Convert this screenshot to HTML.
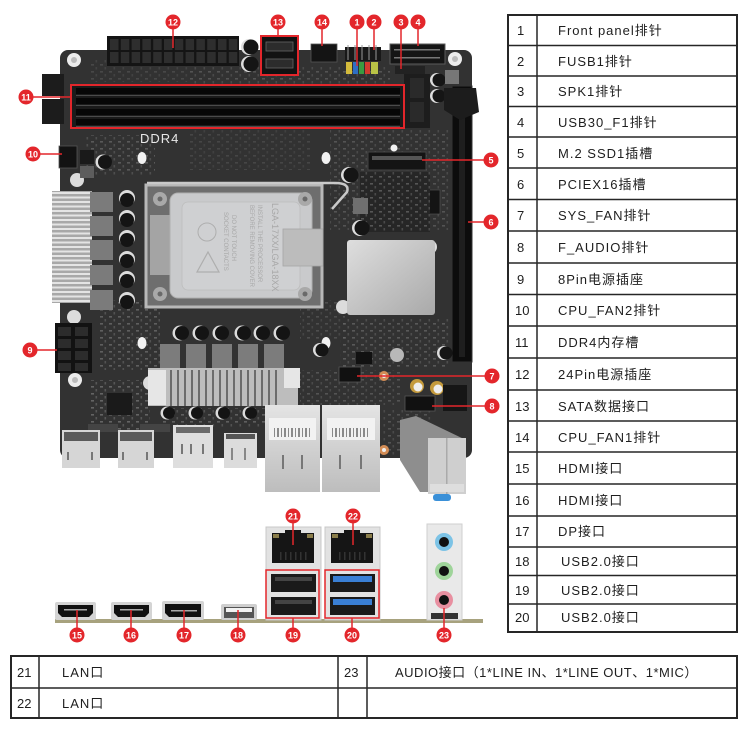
<!DOCTYPE html>
<html><head><meta charset="utf-8">
<style>
html,body{margin:0;padding:0;background:#fff;width:746px;height:734px;overflow:hidden}
svg{display:block}
.t{font-family:"Liberation Sans","Noto Sans CJK SC",sans-serif;font-size:13px;fill:#1e1e1e}
.c{font-family:"Liberation Sans",sans-serif;font-size:9px;font-weight:bold;fill:#fff}
</style></head>
<body>
<svg width="746" height="734" viewBox="0 0 746 734" xmlns="http://www.w3.org/2000/svg">
<defs>
<pattern id="smd" width="9" height="7" patternUnits="userSpaceOnUse">
<rect x="1" y="1" width="3" height="1.6" fill="#6a6a6a"/><rect x="5.5" y="4" width="1.6" height="2.5" fill="#5a5a5a"/>
</pattern>
<linearGradient id="hs" x1="0" y1="0" x2="1" y2="1"><stop offset="0" stop-color="#dedede"/><stop offset="1" stop-color="#a9a9a9"/></linearGradient>
<linearGradient id="met" x1="0" y1="0" x2="0" y2="1"><stop offset="0" stop-color="#e4e4e4"/><stop offset="1" stop-color="#bdbdbd"/></linearGradient>
</defs>

<!-- ===== BOARD ===== -->
<rect x="60" y="50" width="412" height="408" rx="8" fill="#323232"/>
<!-- smd textures -->
<rect x="100" y="300" width="60" height="70" fill="url(#smd)" opacity="0.8"/>
<rect x="90" y="380" width="60" height="50" fill="url(#smd)" opacity="0.9"/>
<rect x="85" y="135" width="70" height="40" fill="url(#smd)" opacity="0.7"/>
<rect x="330" y="130" width="120" height="100" fill="url(#smd)" opacity="0.6"/>
<rect x="340" y="318" width="110" height="50" fill="url(#smd)" opacity="0.7"/>
<rect x="190" y="130" width="120" height="40" fill="url(#smd)" opacity="0.35"/>
<rect x="300" y="370" width="100" height="35" fill="url(#smd)" opacity="0.6"/>
<rect x="160" y="408" width="110" height="20" fill="url(#smd)" opacity="0.8"/>
<rect x="382" y="410" width="50" height="45" fill="url(#smd)" opacity="0.6"/>
<rect x="190" y="66" width="200" height="18" fill="url(#smd)" opacity="0.6"/>
<rect x="300" y="300" width="45" height="40" fill="url(#smd)" opacity="0.5"/>
<rect x="90" y="60" width="100" height="22" fill="url(#smd)" opacity="0.4"/>
<!-- chip near 8pin -->
<rect x="107" y="393" width="25" height="22" fill="#1a1a1a"/>
<rect x="88" y="424" width="30" height="8" fill="#444"/>
<rect x="140" y="424" width="30" height="8" fill="#444"/>

<!-- mounting holes -->
<g fill="#ececec"><circle cx="74" cy="60" r="7"/><circle cx="455" cy="59" r="7"/><circle cx="75" cy="380" r="7"/></g>
<g fill="#bbb"><circle cx="74" cy="60" r="3"/><circle cx="455" cy="59" r="3"/><circle cx="75" cy="380" r="3"/></g>
<!-- white oval holes -->
<g fill="#f2f2f2"><ellipse cx="142" cy="158" rx="4.5" ry="6"/><ellipse cx="326" cy="158" rx="4.5" ry="6"/><ellipse cx="142" cy="343" rx="4.5" ry="6"/><ellipse cx="326" cy="343" rx="4.5" ry="6"/><circle cx="394" cy="148" r="3.5"/></g>
<!-- standoffs -->
<g fill="#dcdcdc"><circle cx="77" cy="180" r="7"/><circle cx="74" cy="317" r="7"/><circle cx="150" cy="383" r="7"/><circle cx="430" cy="247" r="7"/><circle cx="343" cy="307" r="7"/><circle cx="293" cy="383" r="7"/></g>

<!-- 24 pin -->
<rect x="107" y="36" width="132" height="30" fill="#141414"/>
<g fill="#2e2e2e">
<rect x="110" y="39" width="8.5" height="11"/><rect x="120.8" y="39" width="8.5" height="11"/><rect x="131.6" y="39" width="8.5" height="11"/><rect x="142.4" y="39" width="8.5" height="11"/><rect x="153.2" y="39" width="8.5" height="11"/><rect x="164" y="39" width="8.5" height="11"/><rect x="174.8" y="39" width="8.5" height="11"/><rect x="185.6" y="39" width="8.5" height="11"/><rect x="196.4" y="39" width="8.5" height="11"/><rect x="207.2" y="39" width="8.5" height="11"/><rect x="218" y="39" width="8.5" height="11"/><rect x="228.8" y="39" width="8.5" height="11"/>
<rect x="110" y="52" width="8.5" height="11"/><rect x="120.8" y="52" width="8.5" height="11"/><rect x="131.6" y="52" width="8.5" height="11"/><rect x="142.4" y="52" width="8.5" height="11"/><rect x="153.2" y="52" width="8.5" height="11"/><rect x="164" y="52" width="8.5" height="11"/><rect x="174.8" y="52" width="8.5" height="11"/><rect x="185.6" y="52" width="8.5" height="11"/><rect x="196.4" y="52" width="8.5" height="11"/><rect x="207.2" y="52" width="8.5" height="11"/><rect x="218" y="52" width="8.5" height="11"/><rect x="228.8" y="52" width="8.5" height="11"/>
</g>
<!-- caps near 24pin -->
<circle cx="249" cy="47" r="8" fill="#ddd"/><circle cx="251" cy="47" r="7.5" fill="#151515"/>
<circle cx="249" cy="64" r="8" fill="#ddd"/><circle cx="251" cy="64" r="7.5" fill="#151515"/>

<!-- DIMM latches left -->
<rect x="42" y="74" width="22" height="22" fill="#1c1c1c"/>
<rect x="42" y="99" width="22" height="25" fill="#1c1c1c"/>
<!-- DIMM right latches -->
<rect x="404" y="74" width="26" height="54" fill="#1d1d1d"/>
<rect x="410" y="78" width="14" height="20" fill="#2a2a2a"/>
<rect x="410" y="102" width="14" height="20" fill="#2a2a2a"/>
<!-- DIMM slots -->
<rect x="72" y="86" width="332" height="42" fill="#1b1b1b"/>
<g fill="#070707"><rect x="76" y="88" width="324" height="6"/><rect x="76" y="98" width="324" height="6"/><rect x="76" y="109" width="324" height="6"/><rect x="76" y="119" width="324" height="6"/></g>
<g fill="#4b4b4b"><rect x="76" y="95" width="324" height="1"/><rect x="76" y="105" width="324" height="1"/><rect x="76" y="116" width="324" height="1"/><rect x="76" y="126" width="324" height="1"/></g>
<rect x="71" y="85" width="333" height="43" fill="none" stroke="#e3262b" stroke-width="2"/>
<text x="140" y="143" font-family="Liberation Sans,sans-serif" font-size="13" fill="#e8e8e8" letter-spacing="1">DDR4</text>

<!-- SATA -->
<rect x="262" y="37" width="35" height="37" fill="#121212"/>
<rect x="266" y="42" width="27" height="9" fill="#2c2c2c" stroke="#666" stroke-width="0.8"/>
<rect x="266" y="59" width="27" height="9" fill="#2c2c2c" stroke="#666" stroke-width="0.8"/>
<rect x="261" y="36" width="37" height="39" fill="none" stroke="#e3262b" stroke-width="2"/>
<!-- CPU_FAN1 -->
<rect x="311" y="44" width="26" height="18" fill="#141414" stroke="#555" stroke-width="0.8"/>
<!-- front panel -->
<rect x="345" y="47" width="36" height="14" fill="#181818"/>
<g stroke="#999" stroke-width="1"><line x1="348" y1="45" x2="348" y2="60"/><line x1="355" y1="45" x2="355" y2="60"/><line x1="362" y1="45" x2="362" y2="60"/><line x1="369" y1="45" x2="369" y2="60"/><line x1="376" y1="45" x2="376" y2="60"/></g>
<rect x="346" y="62" width="6" height="12" fill="#d4bb3c"/>
<rect x="353" y="62" width="5" height="12" fill="#2f6fc4"/>
<rect x="359" y="62" width="5" height="12" fill="#3b9a40"/>
<rect x="365" y="62" width="5" height="12" fill="#d23a2e"/>
<rect x="371" y="62" width="7" height="12" fill="#b9c346"/>
<!-- USB3 header -->
<rect x="390" y="44" width="55" height="20" fill="#151515" stroke="#5a5a5a" stroke-width="1"/>
<g fill="#777"><rect x="394" y="49" width="46" height="1.5"/><rect x="394" y="57" width="46" height="1.5"/></g>
<rect x="395" y="66" width="30" height="8" fill="#222"/>
<!-- caps near top right -->
<circle cx="437" cy="80" r="7" fill="#ddd"/><circle cx="439" cy="80" r="6.5" fill="#151515"/>
<circle cx="437" cy="96" r="7" fill="#ddd"/><circle cx="439" cy="96" r="6.5" fill="#151515"/>
<rect x="445" y="70" width="14" height="14" fill="#777"/>

<!-- PCIe slot -->
<rect x="452" y="86" width="20" height="276" fill="#0c0c0c" stroke="#333" stroke-width="1"/>
<rect x="459" y="92" width="6" height="265" fill="#1e1e1e"/>
<polygon points="444,88 476,88 479,112 460,120 444,110" fill="#1c1c1c"/>
<!-- small headers near pcie -->
<rect x="424" y="190" width="16" height="24" fill="#141414" stroke="#555" stroke-width="0.6"/>
<!-- M.2 -->
<rect x="368" y="152" width="58" height="18" fill="#141414" stroke="#444" stroke-width="1"/>
<rect x="372" y="156" width="50" height="4" fill="#555"/>
<rect x="360" y="172" width="70" height="60" fill="#262626"/>
<rect x="360" y="172" width="70" height="60" fill="url(#smd)" opacity="0.7"/>
<!-- inductor near m2 -->
<rect x="353" y="198" width="15" height="16" fill="#6f6f6f"/>
<circle cx="349" cy="175" r="8" fill="#ddd"/><circle cx="351" cy="175" r="7.5" fill="#151515"/>
<circle cx="360" cy="228" r="8" fill="#ddd"/><circle cx="362" cy="228" r="7.5" fill="#151515"/>

<!-- CPU_FAN2 -->
<rect x="59" y="146" width="18" height="22" fill="#121212" stroke="#555" stroke-width="0.8"/>
<rect x="80" y="150" width="14" height="14" fill="#1a1a1a"/>
<rect x="80" y="166" width="14" height="12" fill="#5d5d5d"/>
<circle cx="103" cy="162" r="7.5" fill="#ddd"/><circle cx="105" cy="162" r="7" fill="#151515"/>

<!-- left heatsink fins -->
<rect x="52" y="191" width="40" height="112" fill="#a8a8a8"/>
<g fill="#e4e4e4">
<rect x="52" y="192" width="40" height="2"/><rect x="52" y="196.5" width="40" height="2"/><rect x="52" y="201" width="40" height="2"/><rect x="52" y="205.5" width="40" height="2"/><rect x="52" y="210" width="40" height="2"/><rect x="52" y="214.5" width="40" height="2"/><rect x="52" y="219" width="40" height="2"/><rect x="52" y="223.5" width="40" height="2"/><rect x="52" y="228" width="40" height="2"/><rect x="52" y="232.5" width="40" height="2"/><rect x="52" y="237" width="40" height="2"/><rect x="52" y="241.5" width="40" height="2"/><rect x="52" y="246" width="40" height="2"/><rect x="52" y="250.5" width="40" height="2"/><rect x="52" y="255" width="40" height="2"/><rect x="52" y="259.5" width="40" height="2"/><rect x="52" y="264" width="40" height="2"/><rect x="52" y="268.5" width="40" height="2"/><rect x="52" y="273" width="40" height="2"/><rect x="52" y="277.5" width="40" height="2"/><rect x="52" y="282" width="40" height="2"/><rect x="52" y="286.5" width="40" height="2"/><rect x="52" y="291" width="40" height="2"/><rect x="52" y="295.5" width="40" height="2"/><rect x="52" y="300" width="40" height="2"/>
</g>
<!-- left chokes -->
<g fill="#7b7b7b"><rect x="90" y="192" width="23" height="20"/><rect x="90" y="216" width="23" height="20"/><rect x="90" y="240" width="23" height="20"/><rect x="90" y="265" width="23" height="20"/><rect x="90" y="290" width="23" height="20"/></g>
<!-- left caps -->
<g fill="#dcdcdc"><circle cx="127" cy="198" r="8"/><circle cx="127" cy="218" r="8"/><circle cx="127" cy="238" r="8"/><circle cx="127" cy="259" r="8"/><circle cx="127" cy="279" r="8"/><circle cx="127" cy="300" r="8"/></g>
<g fill="#141414"><circle cx="127" cy="200" r="7"/><circle cx="127" cy="220" r="7"/><circle cx="127" cy="240" r="7"/><circle cx="127" cy="261" r="7"/><circle cx="127" cy="281" r="7"/><circle cx="127" cy="302" r="7"/></g>

<!-- CPU socket -->
<rect x="146" y="185" width="176" height="122" fill="#6e6e6e" stroke="#b8b8b8" stroke-width="3"/>
<rect x="150" y="215" width="20" height="60" fill="#a4a4a4"/>
<rect x="170" y="193" width="142" height="105" rx="8" fill="#c9cacc" stroke="#b0b0b0" stroke-width="1"/>
<rect x="182" y="202" width="118" height="88" rx="6" fill="#cfd0d2" stroke="#bdbdbd" stroke-width="0.8"/>
<rect x="283" y="229" width="40" height="37" fill="#bcbcbc" stroke="#a5a5a5" stroke-width="0.8"/>
<g fill="#a9a9a9"><circle cx="160" cy="199" r="7"/><circle cx="305" cy="199" r="7"/><circle cx="160" cy="294" r="7"/><circle cx="305" cy="294" r="7"/></g>
<g fill="#6a6a6a"><circle cx="160" cy="199" r="2.5"/><circle cx="305" cy="199" r="2.5"/><circle cx="160" cy="294" r="2.5"/><circle cx="305" cy="294" r="2.5"/></g>
<path d="M147,183 L335,183 Q350,183 347,192 L332,209" fill="none" stroke="#c9c9c9" stroke-width="2.5"/>
<circle cx="207" cy="232" r="9" fill="none" stroke="#aeaeae" stroke-width="1"/>
<path d="M208,252 L219,272 L197,272 Z" fill="none" stroke="#aeaeae" stroke-width="1.2"/>
<text transform="translate(272,203) rotate(90)" font-family="Liberation Sans,sans-serif" font-size="9" fill="#a8a8a8">LGA-17XX/LGA-18XX</text>
<text transform="translate(258,205) rotate(90)" font-family="Liberation Sans,sans-serif" font-size="6" fill="#a8a8a8">INSTALL THE PROCESSOR</text>
<text transform="translate(250,205) rotate(90)" font-family="Liberation Sans,sans-serif" font-size="6" fill="#a8a8a8">BEFORE REMOVING COVER</text>
<text transform="translate(232,215) rotate(90)" font-family="Liberation Sans,sans-serif" font-size="6" fill="#a8a8a8">DO NOT TOUCH</text>
<text transform="translate(224,212) rotate(90)" font-family="Liberation Sans,sans-serif" font-size="6" fill="#a8a8a8">SOCKET CONTACTS</text>

<!-- chipset heatsink -->
<rect x="347" y="240" width="88" height="75" rx="3" fill="url(#hs)"/>

<!-- bottom VRM caps -->
<g fill="#dcdcdc"><circle cx="180" cy="333" r="7.5"/><circle cx="200" cy="333" r="7.5"/><circle cx="220" cy="333" r="7.5"/><circle cx="242" cy="333" r="7.5"/><circle cx="261" cy="333" r="7.5"/><circle cx="281" cy="333" r="7.5"/></g>
<g fill="#141414"><circle cx="182" cy="333" r="7"/><circle cx="202" cy="333" r="7"/><circle cx="222" cy="333" r="7"/><circle cx="244" cy="333" r="7"/><circle cx="263" cy="333" r="7"/><circle cx="283" cy="333" r="7"/></g>
<!-- bottom chokes -->
<g fill="#7c7c7c"><rect x="160" y="344" width="20" height="25"/><rect x="186" y="344" width="20" height="25"/><rect x="212" y="344" width="20" height="25"/><rect x="238" y="344" width="20" height="25"/><rect x="264" y="344" width="20" height="25"/></g>
<!-- bottom heatsink -->
<rect x="148" y="368" width="150" height="38" fill="#bdbdbd"/>
<rect x="148" y="370" width="18" height="35" fill="#e6e6e6"/>
<rect x="284" y="368" width="16" height="20" fill="#e6e6e6"/>
<g fill="#6c6c6c"><rect x="170" y="370" width="2" height="36"/><rect x="177" y="370" width="2" height="36"/><rect x="184" y="370" width="2" height="36"/><rect x="191" y="370" width="2" height="36"/><rect x="198" y="370" width="2" height="36"/><rect x="205" y="370" width="2" height="36"/><rect x="212" y="370" width="2" height="36"/><rect x="219" y="370" width="2" height="36"/><rect x="226" y="370" width="2" height="36"/><rect x="233" y="370" width="2" height="36"/><rect x="240" y="370" width="2" height="36"/><rect x="247" y="370" width="2" height="36"/><rect x="254" y="370" width="2" height="36"/><rect x="261" y="370" width="2" height="36"/><rect x="268" y="370" width="2" height="36"/><rect x="275" y="370" width="2" height="36"/></g>
<g fill="#dcdcdc"><circle cx="167" cy="413" r="6.5"/><circle cx="195" cy="413" r="6.5"/><circle cx="222" cy="413" r="6.5"/><circle cx="249" cy="413" r="6.5"/></g>
<g fill="#141414"><circle cx="169" cy="413" r="6"/><circle cx="197" cy="413" r="6"/><circle cx="224" cy="413" r="6"/><circle cx="251" cy="413" r="6"/></g>

<!-- 8 pin -->
<rect x="55" y="323" width="37" height="50" fill="#121212"/>
<g fill="#2c2c2c"><rect x="58" y="327" width="13" height="9"/><rect x="75" y="327" width="13" height="9"/><rect x="58" y="339" width="13" height="9"/><rect x="75" y="339" width="13" height="9"/><rect x="58" y="351" width="13" height="9"/><rect x="75" y="351" width="13" height="9"/><rect x="58" y="363" width="13" height="8"/><rect x="75" y="363" width="13" height="8"/></g>

<!-- SYS_FAN / F_AUDIO etc -->
<rect x="339" y="367" width="22" height="15" fill="#111" stroke="#555" stroke-width="0.8"/>
<rect x="356" y="352" width="16" height="12" fill="#111"/>
<circle cx="397" cy="355" r="7" fill="#b8b8b8"/>
<circle cx="384" cy="376" r="5" fill="#d38d56"/><circle cx="384" cy="376" r="2" fill="#eee"/>
<circle cx="384" cy="450" r="5" fill="#d38d56"/><circle cx="384" cy="450" r="2" fill="#eee"/>
<circle cx="417" cy="386" r="7" fill="#c49a3c"/><circle cx="418" cy="387" r="4.5" fill="#eee"/>
<circle cx="437" cy="388" r="7" fill="#c49a3c"/><circle cx="438" cy="389" r="4.5" fill="#eee"/>
<rect x="405" y="396" width="30" height="15" fill="#111" stroke="#555" stroke-width="0.8"/>
<rect x="443" y="385" width="24" height="26" fill="#161616"/>
<circle cx="444" cy="353" r="7" fill="#ddd"/><circle cx="446" cy="353" r="6.5" fill="#151515"/>
<circle cx="320" cy="350" r="7" fill="#ddd"/><circle cx="322" cy="350" r="6.5" fill="#151515"/>

<!-- rear ports top view -->
<rect x="62" y="430" width="38" height="38" fill="#d6d6d6"/>
<rect x="64" y="432" width="34" height="9" fill="#5a5a5a"/>
<g fill="#777"><rect x="67" y="452" width="2" height="8"/><rect x="91" y="452" width="2" height="8"/></g>
<rect x="118" y="430" width="36" height="38" fill="#d6d6d6"/>
<rect x="120" y="432" width="32" height="9" fill="#5a5a5a"/>
<g fill="#777"><rect x="122" y="452" width="2" height="8"/><rect x="146" y="452" width="2" height="8"/></g>
<rect x="173" y="425" width="40" height="43" fill="#dedede"/>
<rect x="176" y="427" width="34" height="6" fill="#6a6a6a"/>
<g fill="#777"><rect x="181" y="444" width="2" height="10"/><rect x="190" y="444" width="2" height="10"/><rect x="202" y="444" width="2" height="10"/></g>
<rect x="224" y="433" width="33" height="35" fill="#dcdcdc"/>
<rect x="226" y="434" width="29" height="5" fill="#555"/>
<g fill="#888"><rect x="231" y="448" width="2" height="12"/><rect x="244" y="448" width="2" height="12"/></g>
<!-- LAN blocks -->
<rect x="265" y="405" width="55" height="87" fill="url(#met)"/>
<rect x="269" y="418" width="47" height="22" fill="#f2f2f2"/>
<g fill="#8a8a8a"><rect x="274" y="428" width="1" height="9"/><rect x="277" y="428" width="2" height="9"/><rect x="281" y="428" width="1" height="9"/><rect x="284" y="428" width="2" height="9"/><rect x="288" y="428" width="1" height="9"/><rect x="291" y="428" width="2" height="9"/><rect x="295" y="428" width="1" height="9"/><rect x="298" y="428" width="2" height="9"/><rect x="302" y="428" width="1" height="9"/><rect x="305" y="428" width="2" height="9"/><rect x="309" y="428" width="1" height="9"/></g>
<g fill="#777"><rect x="282" y="455" width="2" height="14"/><rect x="301" y="455" width="2" height="14"/></g>
<rect x="322" y="405" width="58" height="87" fill="url(#met)"/>
<rect x="327" y="418" width="48" height="22" fill="#f2f2f2"/>
<g fill="#8a8a8a"><rect x="332" y="428" width="1" height="9"/><rect x="335" y="428" width="2" height="9"/><rect x="339" y="428" width="1" height="9"/><rect x="342" y="428" width="2" height="9"/><rect x="346" y="428" width="1" height="9"/><rect x="349" y="428" width="2" height="9"/><rect x="353" y="428" width="1" height="9"/><rect x="356" y="428" width="2" height="9"/><rect x="360" y="428" width="1" height="9"/><rect x="363" y="428" width="2" height="9"/><rect x="367" y="428" width="1" height="9"/></g>
<g fill="#777"><rect x="339" y="455" width="2" height="14"/><rect x="360" y="455" width="2" height="14"/></g>
<!-- PCIe riser / bracket -->
<polygon points="400,420 416,416 466,440 466,450 434,492 420,492 400,460" fill="#8e8e8e"/>
<rect x="428" y="438" width="38" height="56" fill="#cfcfcf"/>
<rect x="446" y="438" width="1.5" height="56" fill="#aaa"/>
<rect x="430" y="484" width="34" height="8" fill="#dedede"/>
<rect x="433" y="494" width="18" height="7" rx="3" fill="#3a90d8"/>

<!-- ===== BOTTOM I/O VIEW ===== -->
<rect x="55" y="619" width="428" height="4" fill="#a7a27e"/>
<!-- HDMI 15 -->
<rect x="55" y="602" width="41" height="18" rx="2" fill="#d4d4d4"/>
<path d="M58,605 L93,605 L93,613 L89,617 L62,617 L58,613 Z" fill="#111"/>
<rect x="64" y="609" width="23" height="1.5" fill="#aaa"/>
<!-- HDMI 16 -->
<rect x="111" y="602" width="41" height="18" rx="2" fill="#d4d4d4"/>
<path d="M114,605 L149,605 L149,613 L145,617 L118,617 L114,613 Z" fill="#111"/>
<rect x="120" y="609" width="23" height="1.5" fill="#aaa"/>
<!-- DP 17 -->
<rect x="162" y="601" width="42" height="19" rx="2" fill="#d4d4d4"/>
<path d="M165,604 L201,604 L201,617 L169,617 L165,613 Z" fill="#111"/>
<rect x="171" y="610" width="26" height="1.5" fill="#aaa"/>
<!-- USB 18 -->
<rect x="221" y="604" width="36" height="16" rx="2" fill="#cfcfcf"/>
<rect x="224" y="607" width="30" height="11" fill="#555"/>
<rect x="226" y="608" width="26" height="4" fill="#f2f2f2"/>
<!-- LAN/USB stack 19/21 -->
<rect x="266" y="527" width="55" height="93" fill="#e2e2e2" stroke="#c8c8c8" stroke-width="1"/>
<path d="M272,533 L314,533 L314,563 L272,563 Z" fill="#151515"/>
<rect x="285" y="530" width="16" height="6" fill="#151515"/>
<rect x="273" y="534" width="6" height="4" fill="#8a7d4a"/><rect x="307" y="534" width="6" height="4" fill="#8a7d4a"/>
<g fill="#333"><rect x="280" y="552" width="1.5" height="8"/><rect x="285" y="552" width="1.5" height="8"/><rect x="290" y="552" width="1.5" height="8"/><rect x="295" y="552" width="1.5" height="8"/><rect x="300" y="552" width="1.5" height="8"/><rect x="305" y="552" width="1.5" height="8"/></g>
<rect x="271" y="574" width="45" height="18" fill="#1a1a1a"/>
<rect x="275" y="577" width="37" height="4" fill="#444"/>
<rect x="271" y="597" width="45" height="18" fill="#1a1a1a"/>
<rect x="275" y="600" width="37" height="4" fill="#444"/>
<rect x="266" y="570" width="53" height="48" fill="none" stroke="#e3262b" stroke-width="1.5"/>
<!-- 20/22 -->
<rect x="325" y="527" width="55" height="93" fill="#e2e2e2" stroke="#c8c8c8" stroke-width="1"/>
<path d="M331,533 L373,533 L373,563 L331,563 Z" fill="#151515"/>
<rect x="344" y="530" width="16" height="6" fill="#151515"/>
<rect x="332" y="534" width="6" height="4" fill="#8a7d4a"/><rect x="366" y="534" width="6" height="4" fill="#8a7d4a"/>
<g fill="#333"><rect x="339" y="552" width="1.5" height="8"/><rect x="344" y="552" width="1.5" height="8"/><rect x="349" y="552" width="1.5" height="8"/><rect x="354" y="552" width="1.5" height="8"/><rect x="359" y="552" width="1.5" height="8"/><rect x="364" y="552" width="1.5" height="8"/></g>
<rect x="330" y="574" width="45" height="18" fill="#1a1a1a"/>
<rect x="333" y="576" width="39" height="6" fill="#3a7fd4"/>
<rect x="330" y="597" width="45" height="18" fill="#1a1a1a"/>
<rect x="333" y="599" width="39" height="6" fill="#3a7fd4"/>
<rect x="325" y="570" width="54" height="48" fill="none" stroke="#e3262b" stroke-width="1.5"/>
<!-- audio 23 -->
<rect x="427" y="524" width="35" height="96" fill="#e9e9e9" stroke="#cfcfcf" stroke-width="1"/>
<circle cx="444" cy="542" r="9" fill="#7cc3e6"/><circle cx="444" cy="542" r="5" fill="#111"/>
<circle cx="444" cy="571" r="9" fill="#9fd49a"/><circle cx="444" cy="571" r="5" fill="#111"/>
<circle cx="444" cy="600" r="9" fill="#e88fa0"/><circle cx="444" cy="600" r="5" fill="#111"/>
<rect x="431" y="613" width="27" height="6" fill="#333"/>

<!-- ===== CALLOUT LINES ===== -->
<g stroke="#e3262b" stroke-width="1.5" fill="none">
<line x1="173" y1="29" x2="173" y2="48"/>
<line x1="278" y1="29" x2="278" y2="36"/>
<line x1="322" y1="29" x2="322" y2="46"/>
<line x1="357" y1="29" x2="357" y2="66"/>
<line x1="374" y1="29" x2="374" y2="50"/>
<line x1="401" y1="29" x2="401" y2="69"/>
<line x1="418" y1="29" x2="418" y2="46"/>
<line x1="33" y1="97" x2="71" y2="97"/>
<line x1="40" y1="154" x2="62" y2="154"/>
<line x1="37" y1="350" x2="57" y2="350"/>
<line x1="422" y1="160" x2="484" y2="160"/>
<line x1="468" y1="222" x2="484" y2="222"/>
<line x1="357" y1="376" x2="485" y2="376"/>
<line x1="432" y1="406" x2="485" y2="406"/>
<line x1="77" y1="610" x2="77" y2="628"/>
<line x1="131" y1="610" x2="131" y2="628"/>
<line x1="184" y1="610" x2="184" y2="628"/>
<line x1="238" y1="610" x2="238" y2="628"/>
<line x1="293" y1="618" x2="293" y2="628"/>
<line x1="352" y1="618" x2="352" y2="628"/>
<line x1="444" y1="608" x2="444" y2="628"/>
<line x1="293" y1="523" x2="293" y2="545"/>
<line x1="353" y1="523" x2="353" y2="545"/>
</g>
<!-- callout circles -->
<g fill="#e3262b">
<circle cx="173" cy="22" r="7.5"/><circle cx="278" cy="22" r="7.5"/><circle cx="322" cy="22" r="7.5"/><circle cx="357" cy="22" r="7.5"/><circle cx="374" cy="22" r="7.5"/><circle cx="401" cy="22" r="7.5"/><circle cx="418" cy="22" r="7.5"/>
<circle cx="26" cy="97" r="7.5"/><circle cx="33" cy="154" r="7.5"/><circle cx="30" cy="350" r="7.5"/>
<circle cx="491" cy="160" r="7.5"/><circle cx="491" cy="222" r="7.5"/><circle cx="492" cy="376" r="7.5"/><circle cx="492" cy="406" r="7.5"/>
<circle cx="77" cy="635" r="7.5"/><circle cx="131" cy="635" r="7.5"/><circle cx="184" cy="635" r="7.5"/><circle cx="238" cy="635" r="7.5"/><circle cx="293" cy="635" r="7.5"/><circle cx="352" cy="635" r="7.5"/><circle cx="444" cy="635" r="7.5"/>
<circle cx="293" cy="516" r="7.5"/><circle cx="353" cy="516" r="7.5"/>
</g>
<g class="c" text-anchor="middle">
<text x="173" y="25.3">12</text><text x="278" y="25.3">13</text><text x="322" y="25.3">14</text><text x="357" y="25.3">1</text><text x="374" y="25.3">2</text><text x="401" y="25.3">3</text><text x="418" y="25.3">4</text>
<text x="26" y="100.3">11</text><text x="33" y="157.3">10</text><text x="30" y="353.3">9</text>
<text x="491" y="163.3">5</text><text x="491" y="225.3">6</text><text x="492" y="379.3">7</text><text x="492" y="409.3">8</text>
<text x="77" y="638.3">15</text><text x="131" y="638.3">16</text><text x="184" y="638.3">17</text><text x="238" y="638.3">18</text><text x="293" y="638.3">19</text><text x="352" y="638.3">20</text><text x="444" y="638.3">23</text>
<text x="293" y="519.3">21</text><text x="353" y="519.3">22</text>
</g>

<!-- ===== RIGHT TABLE ===== -->
<g stroke="#262626" stroke-width="1.5" fill="none">
<rect x="508" y="15" width="229" height="617" stroke-width="2"/>
<line x1="537" y1="15" x2="537" y2="632"/>
<line x1="508" y1="45.5" x2="737" y2="45.5"/>
<line x1="508" y1="76" x2="737" y2="76"/>
<line x1="508" y1="106.5" x2="737" y2="106.5"/>
<line x1="508" y1="137" x2="737" y2="137"/>
<line x1="508" y1="168" x2="737" y2="168"/>
<line x1="508" y1="199.5" x2="737" y2="199.5"/>
<line x1="508" y1="231" x2="737" y2="231"/>
<line x1="508" y1="263" x2="737" y2="263"/>
<line x1="508" y1="294.5" x2="737" y2="294.5"/>
<line x1="508" y1="326" x2="737" y2="326"/>
<line x1="508" y1="358" x2="737" y2="358"/>
<line x1="508" y1="390" x2="737" y2="390"/>
<line x1="508" y1="421" x2="737" y2="421"/>
<line x1="508" y1="452" x2="737" y2="452"/>
<line x1="508" y1="484" x2="737" y2="484"/>
<line x1="508" y1="516" x2="737" y2="516"/>
<line x1="508" y1="547" x2="737" y2="547"/>
<line x1="508" y1="575.5" x2="737" y2="575.5"/>
<line x1="508" y1="604" x2="737" y2="604"/>
</g>
<g class="t">
<text x="517" y="35">1</text><text x="517" y="66">2</text><text x="517" y="96">3</text><text x="517" y="127">4</text><text x="517" y="158">5</text><text x="517" y="189">6</text><text x="517" y="220">7</text><text x="517" y="252">8</text><text x="517" y="284">9</text><text x="515" y="315">10</text><text x="515" y="347">11</text><text x="515" y="379">12</text><text x="515" y="411">13</text><text x="515" y="442">14</text><text x="515" y="473">15</text><text x="515" y="505">16</text><text x="515" y="536">17</text><text x="515" y="566">18</text><text x="515" y="595">19</text><text x="515" y="622">20</text>
</g>
<g class="t" letter-spacing="1">
<text x="558" y="35">Front panel排针</text>
<text x="558" y="66">FUSB1排针</text>
<text x="558" y="96">SPK1排针</text>
<text x="558" y="127">USB30_F1排针</text>
<text x="558" y="158">M.2 SSD1插槽</text>
<text x="558" y="189">PCIEX16插槽</text>
<text x="558" y="220">SYS_FAN排针</text>
<text x="558" y="252">F_AUDIO排针</text>
<text x="558" y="284">8Pin电源插座</text>
<text x="558" y="315">CPU_FAN2排针</text>
<text x="558" y="347">DDR4内存槽</text>
<text x="558" y="379">24Pin电源插座</text>
<text x="558" y="411">SATA数据接口</text>
<text x="558" y="442">CPU_FAN1排针</text>
<text x="558" y="473">HDMI接口</text>
<text x="558" y="505">HDMI接口</text>
<text x="558" y="536">DP接口</text>
<text x="561" y="566">USB2.0接口</text>
<text x="561" y="595">USB2.0接口</text>
<text x="561" y="622">USB2.0接口</text>
</g>

<!-- ===== BOTTOM TABLE ===== -->
<g stroke="#262626" stroke-width="1.5" fill="none">
<rect x="11" y="656" width="726" height="62" stroke-width="2"/>
<line x1="11" y1="688" x2="737" y2="688"/>
<line x1="39" y1="656" x2="39" y2="718"/>
<line x1="338" y1="656" x2="338" y2="718"/>
<line x1="367" y1="656" x2="367" y2="718"/>
</g>
<g class="t">
<text x="17" y="677">21</text><text x="17" y="708">22</text><text x="344" y="677">23</text>
<text x="62" y="677" letter-spacing="1">LAN口</text>
<text x="62" y="708" letter-spacing="1">LAN口</text>
<text x="395" y="677" letter-spacing="0.5">AUDIO接口（1*LINE IN、1*LINE OUT、1*MIC）</text>
</g>
</svg>
</body></html>
